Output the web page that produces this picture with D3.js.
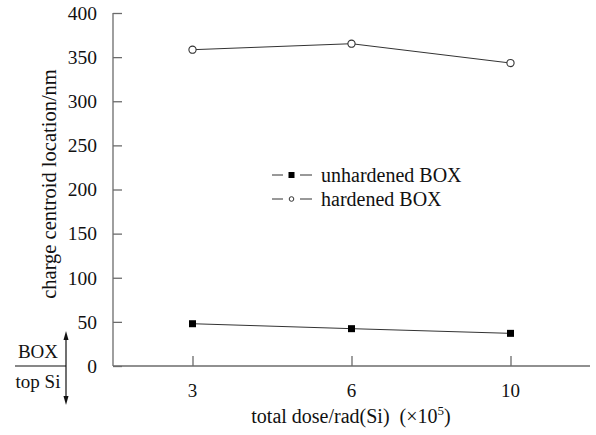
<!DOCTYPE html>
<html><head><meta charset="utf-8">
<script src="https://cdn.jsdelivr.net/npm/d3@7"></script>
<style>body{margin:0;background:#fff}svg{display:block}text{font-family:"Liberation Serif","Times New Roman",serif;fill:#111}</style>
</head><body><svg id="c" width="596" height="435"></svg>
<script>
const categories = ["3", "6", "10"];
const unhardened = [47.9, 42.3, 37.0];
const hardened = [358.4, 365.2, 343.3];
const yTicks = [0, 50, 100, 150, 200, 250, 300, 350, 400];
const seriesNames = ["unhardened BOX", "hardened BOX"];

const svg = d3.select("#c");
const x = d3.scalePoint().domain(categories).range([113, 590]).padding(0.5);
const y = d3.scaleLinear().domain([0, 400]).range([366, 13]);
const axisColor = "#6b6b6b";

// y axis
const ya = svg.append("g").attr("transform", "translate(113,0)")
  .call(d3.axisRight(y).tickValues(yTicks).tickSize(9).tickFormat(""));
ya.select(".domain").attr("stroke", axisColor).attr("stroke-width", 1.3).attr("d", `M0,${y(400)}V${y(0)}`);
ya.selectAll(".tick line").attr("stroke", axisColor).attr("stroke-width", 1.3);
svg.append("g").selectAll("text").data(yTicks).join("text")
  .attr("x", 97).attr("y", d => y(d) + 6.8).attr("text-anchor", "end")
  .attr("font-size", 19.5).text(d => d);

// x axis
const xa = svg.append("g").attr("transform", "translate(0,366)")
  .call(d3.axisTop(x).tickSize(10).tickFormat(""));
xa.select(".domain").attr("stroke", axisColor).attr("stroke-width", 1.3).attr("d", "M113,0H590");
xa.selectAll(".tick line").attr("stroke", axisColor).attr("stroke-width", 1.3);
svg.append("g").selectAll("text").data(categories).join("text")
  .attr("x", d => x(d)).attr("y", 397).attr("text-anchor", "middle")
  .attr("font-size", 19).text(d => d);

// axis titles
const xt = svg.append("text").attr("x", 351).attr("y", 423).attr("text-anchor", "middle").attr("font-size", 20);
xt.append("tspan").text("total dose/rad(Si)\u00a0\u00a0(\u00d710");
xt.append("tspan").attr("font-size", 13).attr("dy", -8).text("5");
xt.append("tspan").attr("dy", 8).text(")");
svg.append("text").attr("transform", "translate(56,184) rotate(-90)").attr("text-anchor", "middle")
  .attr("font-size", 20.5).text("charge centroid location/nm");

// lines
const line = d3.line().x((d, i) => x(categories[i])).y(d => y(d));
svg.append("path").datum(unhardened).attr("d", line).attr("fill", "none").attr("stroke", "#333").attr("stroke-width", 1);
svg.append("path").datum(hardened).attr("d", line).attr("fill", "none").attr("stroke", "#333").attr("stroke-width", 1);
svg.append("g").selectAll("rect").data(unhardened).join("rect")
  .attr("x", (d, i) => x(categories[i]) - 3.5).attr("y", d => y(d) - 3.5)
  .attr("width", 7).attr("height", 7).attr("fill", "#000");
svg.append("g").selectAll("circle").data(hardened).join("circle")
  .attr("cx", (d, i) => x(categories[i])).attr("cy", d => y(d)).attr("r", 3.6)
  .attr("fill", "#fff").attr("stroke", "#333").attr("stroke-width", 1.1);

// legend
const leg = svg.append("g");
seriesNames.forEach((name, i) => {
  const ly = 175 + i * 24;
  leg.append("line").attr("x1", 272).attr("x2", 283).attr("y1", ly).attr("y2", ly).attr("stroke", "#333");
  leg.append("line").attr("x1", 300).attr("x2", 312).attr("y1", ly).attr("y2", ly).attr("stroke", "#333");
  if (i === 0) leg.append("rect").attr("x", 288.5).attr("y", ly - 3).attr("width", 6).attr("height", 6).attr("fill", "#000");
  else leg.append("circle").attr("cx", 291.5).attr("cy", ly).attr("r", 2.3).attr("fill", "#fff").attr("stroke", "#333");
  leg.append("text").attr("x", 321).attr("y", ly + 6.5).attr("font-size", 20).text(name);
});

// BOX / top Si annotation
svg.append("line").attr("x1", 15).attr("x2", 66).attr("y1", 366).attr("y2", 366).attr("stroke", "#111").attr("stroke-width", 1.2);
svg.append("line").attr("x1", 66).attr("x2", 66).attr("y1", 336).attr("y2", 400).attr("stroke", "#111").attr("stroke-width", 1.2);
svg.append("path").attr("d", "M66,331L63.5,340L68.5,340Z").attr("fill", "#111");
svg.append("path").attr("d", "M66,405L63.5,396L68.5,396Z").attr("fill", "#111");
svg.append("text").attr("x", 38).attr("y", 358).attr("text-anchor", "middle").attr("font-size", 19).text("BOX");
svg.append("text").attr("x", 38).attr("y", 388).attr("text-anchor", "middle").attr("font-size", 19).text("top Si");
</script></body></html>
